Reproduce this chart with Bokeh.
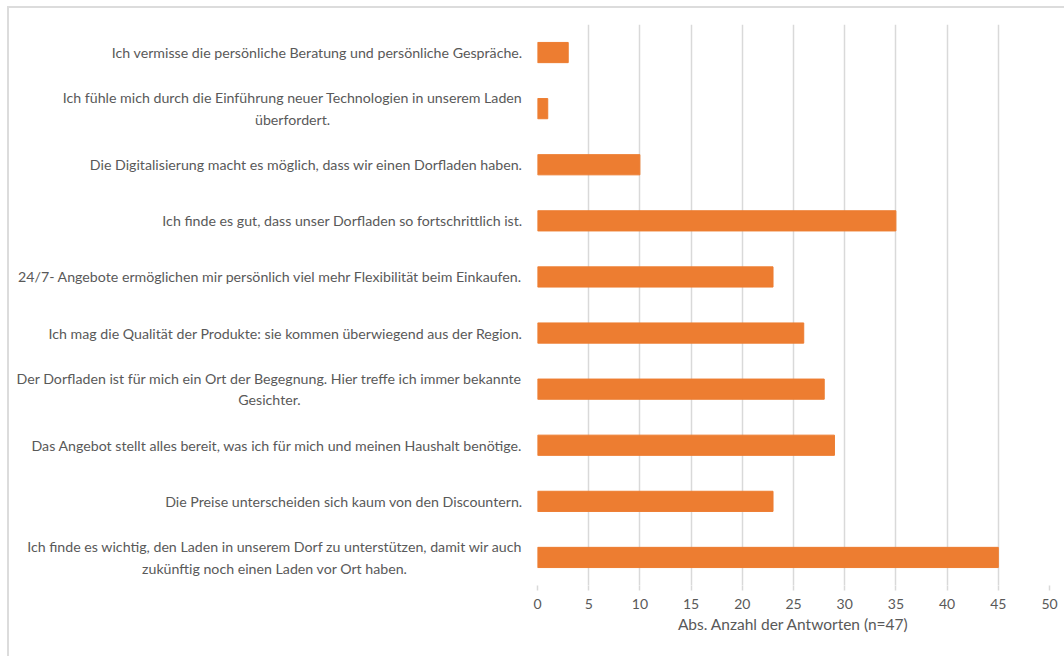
from bokeh.plotting import figure
from bokeh.models import FactorRange, Range1d, FixedTicker, ColumnDataSource
from bokeh.layouts import row
from bokeh.core.properties import value
from bokeh.embed import file_html
from bokeh.resources import INLINE

# Data (top to bottom as in the chart)
categories = [
    "Ich vermisse die persönliche Beratung und persönliche Gespräche.",
    "Ich fühle mich durch die Einführung neuer Technologien in unserem Laden überfordert.",
    "Die Digitalisierung macht es möglich, dass wir einen Dorfladen haben.",
    "Ich finde es gut, dass unser Dorfladen so fortschrittlich ist.",
    "24/7- Angebote ermöglichen mir persönlich viel mehr Flexibilität beim Einkaufen.",
    "Ich mag die Qualität der Produkte: sie kommen überwiegend aus der Region.",
    "Der Dorfladen ist für mich ein Ort der Begegnung. Hier treffe ich immer bekannte Gesichter.",
    "Das Angebot stellt alles bereit, was ich für mich und meinen Haushalt benötige.",
    "Die Preise unterscheiden sich kaum von den Discountern.",
    "Ich finde es wichtig, den Laden in unserem Dorf zu unterstützen, damit wir auch zukünftig noch einen Laden vor Ort haben.",
]
display_labels = [
    "Ich vermisse die persönliche Beratung und persönliche Gespräche.",
    "Ich fühle mich durch die Einführung neuer Technologien in unserem Laden\nüberfordert.",
    "Die Digitalisierung macht es möglich, dass wir einen Dorfladen haben.",
    "Ich finde es gut, dass unser Dorfladen so fortschrittlich ist.",
    "24/7- Angebote ermöglichen mir persönlich viel mehr Flexibilität beim Einkaufen.",
    "Ich mag die Qualität der Produkte: sie kommen überwiegend aus der Region.",
    "Der Dorfladen ist für mich ein Ort der Begegnung. Hier treffe ich immer bekannte\nGesichter.",
    "Das Angebot stellt alles bereit, was ich für mich und meinen Haushalt benötige.",
    "Die Preise unterscheiden sich kaum von den Discountern.",
    "Ich finde es wichtig, den Laden in unserem Dorf zu unterstützen, damit wir auch\nzukünftig noch einen Laden vor Ort haben.",
]
values = [3, 1, 10, 35, 23, 26, 28, 29, 23, 45]
x_ticks = [0, 5, 10, 15, 20, 25, 30, 35, 40, 45, 50]
x_title = "Abs. Anzahl der Antworten (n=47)"

TEXT_COLOR = "#595959"
GRID_COLOR = "#D9D9D9"
BAR_COLOR = "#ED7D31"
FONT = "Lato"

y_range = FactorRange(factors=list(reversed(categories)), range_padding=0)

H = 648
TOP, BOTTOM = 16, 71

# Left panel: category labels
left = figure(width=518, height=H, y_range=y_range, x_range=Range1d(0, 1),
              x_axis_location=None, y_axis_location=None,
              min_border_left=0, min_border_right=0,
              min_border_top=TOP, min_border_bottom=BOTTOM,
              output_backend="svg", toolbar_location=None)
left.grid.visible = False
left.outline_line_color = None
label_src = ColumnDataSource(dict(x=[1] * len(categories), y=categories, text=display_labels))
left.text(x="x", y="y", text="text", source=label_src,
          text_align="center", anchor="center_right", x_offset=-5,
          text_font=value(FONT), text_font_size="14.2px", text_color=TEXT_COLOR,
          text_line_height=1.27)

# Right panel: bars
p = figure(width=537, height=H, y_range=y_range, x_range=Range1d(0, 50),
           y_axis_location=None,
           min_border_left=10, min_border_right=15,
           min_border_top=TOP, min_border_bottom=BOTTOM,
           output_backend="svg", toolbar_location=None)
src = ColumnDataSource(dict(cat=categories, val=values))
p.hbar(y="cat", right="val", left=0, height=0.36, source=src,
       fill_color=BAR_COLOR, line_color=BAR_COLOR)
p.outline_line_color = None
p.ygrid.visible = False
p.xgrid.ticker = FixedTicker(ticks=x_ticks)
p.xgrid.grid_line_color = GRID_COLOR
p.xgrid.grid_line_width = 1.5
p.xgrid.level = "underlay"
xa = p.xaxis[0]
xa.ticker = FixedTicker(ticks=x_ticks)
xa.axis_line_color = None
xa.major_tick_line_color = GRID_COLOR
xa.major_tick_line_width = 1.5
xa.major_tick_in = 0
xa.major_tick_out = 5
xa.minor_tick_line_color = None
xa.major_label_standoff = 8
xa.major_label_text_color = TEXT_COLOR
xa.major_label_text_font = FONT
xa.major_label_text_font_size = "14px"
xa.axis_label = x_title
xa.axis_label_text_color = TEXT_COLOR
xa.axis_label_text_font = FONT
xa.axis_label_text_font_size = "15.5px"
xa.axis_label_text_font_style = "normal"
xa.axis_label_standoff = 3

layout = row(left, p, spacing=0, margin=(6, 0, 0, 7),
             styles={"border-top": "2px solid #DCDCDC", "border-left": "2px solid #DCDCDC"})
open("out.html", "w").write(file_html(layout, INLINE))
